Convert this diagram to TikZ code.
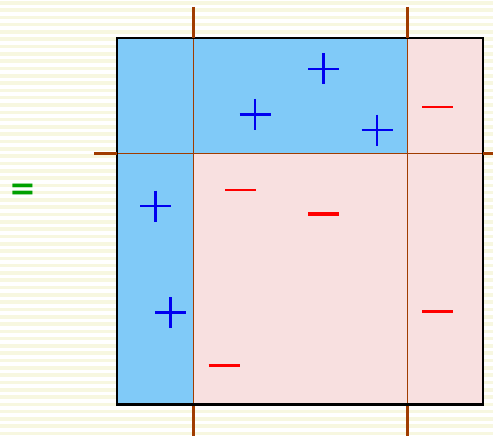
\documentclass[tikz,border=0pt]{standalone}
\usepackage{fontspec}
\newfontfamily\eqfont{DejaVu Sans}
\definecolor{stripe}{HTML}{F7F7E0}
\definecolor{cellblue}{HTML}{80CAF8}
\definecolor{cellpink}{HTML}{F8E0E0}
\definecolor{rust}{HTML}{A03C00}
\definecolor{eqgreen}{HTML}{00A000}
\definecolor{plusblue}{HTML}{0000F0}
\definecolor{minusred}{HTML}{FF0000}
\tikzset{
  thinrule/.style={draw=rust, line width=1pt},
  thickrule/.style={draw=rust, line width=3pt},
  plussign/.style={draw=plusblue, line width=2.8pt},
  minussign/.style={draw=minusred, line width=#1},
  minussign/.default=2.5pt,
}
\newcommand{\plusat}[2]{\draw[plussign] (#1-15.5,#2) -- (#1+15.5,#2) (#1,#2-15.5) -- (#1,#2+15.5);}
\newcommand{\minusat}[3]{\draw[minussign=#3] (#1-15.5,#2) -- (#1+15.5,#2);}
\begin{document}
\begin{tikzpicture}[x=1pt,y=-1pt]
\useasboundingbox (0,0) rectangle (493,436);
\fill[white] (0,0) rectangle (493,436);
\foreach \i in {0,...,60} {
  \fill[stripe] (0,{\i*7.3+1}) rectangle (493,{\i*7.3+4.6});
}
% cells
\fill[cellpink] (117,38) rectangle (483,405);
\fill[cellblue] (117,38) rectangle (407,153.5);
\fill[cellblue] (117,38) rectangle (193,405);
% inner rules
\coordinate (vtA) at (193,7);
\coordinate (vbA) at (193,436);
\coordinate (vtB) at (407,7);
\coordinate (vbB) at (407,436);
\coordinate (hl) at (94,153.5);
\coordinate (hr) at (493,153.5);
\draw[thinrule] (193,38) -- (193,405);
\draw[thinrule] (407,38) -- (407,405);
\draw[thinrule] (117,153.5) -- (483,153.5);
% box
\draw[black, line width=1.2pt] (117,38) rectangle (483,405);
\draw[black, line width=2.2pt] (117,404.5) -- (483,404.5);
% outer thick rules
\draw[thickrule] (vtA) -- (193,38);
\draw[thickrule] (193,405.5) -- (vbA);
\draw[thickrule] (vtB) -- (407,38);
\draw[thickrule] (407,405.5) -- (vbB);
\draw[thickrule] (hl) -- (117,153.5);
\draw[thickrule] (483,153.5) -- (hr);
% plus signs
\plusat{323.5}{69}
\plusat{255}{114.5}
\plusat{377}{130}
\plusat{155.5}{206}
\plusat{170.5}{312.5}
% minus signs
\minusat{437.5}{107}{2pt}
\minusat{240.5}{189.5}{2pt}
\minusat{323.5}{214}{4pt}
\minusat{224}{365.5}{3pt}
\minusat{437.5}{311.5}{3pt}
% equals sign
\node[text=eqgreen, font=\eqfont\bfseries\fontsize{32}{32}\selectfont, inner sep=0pt] (eq) at (23,192) {=};
\end{tikzpicture}
\end{document}
